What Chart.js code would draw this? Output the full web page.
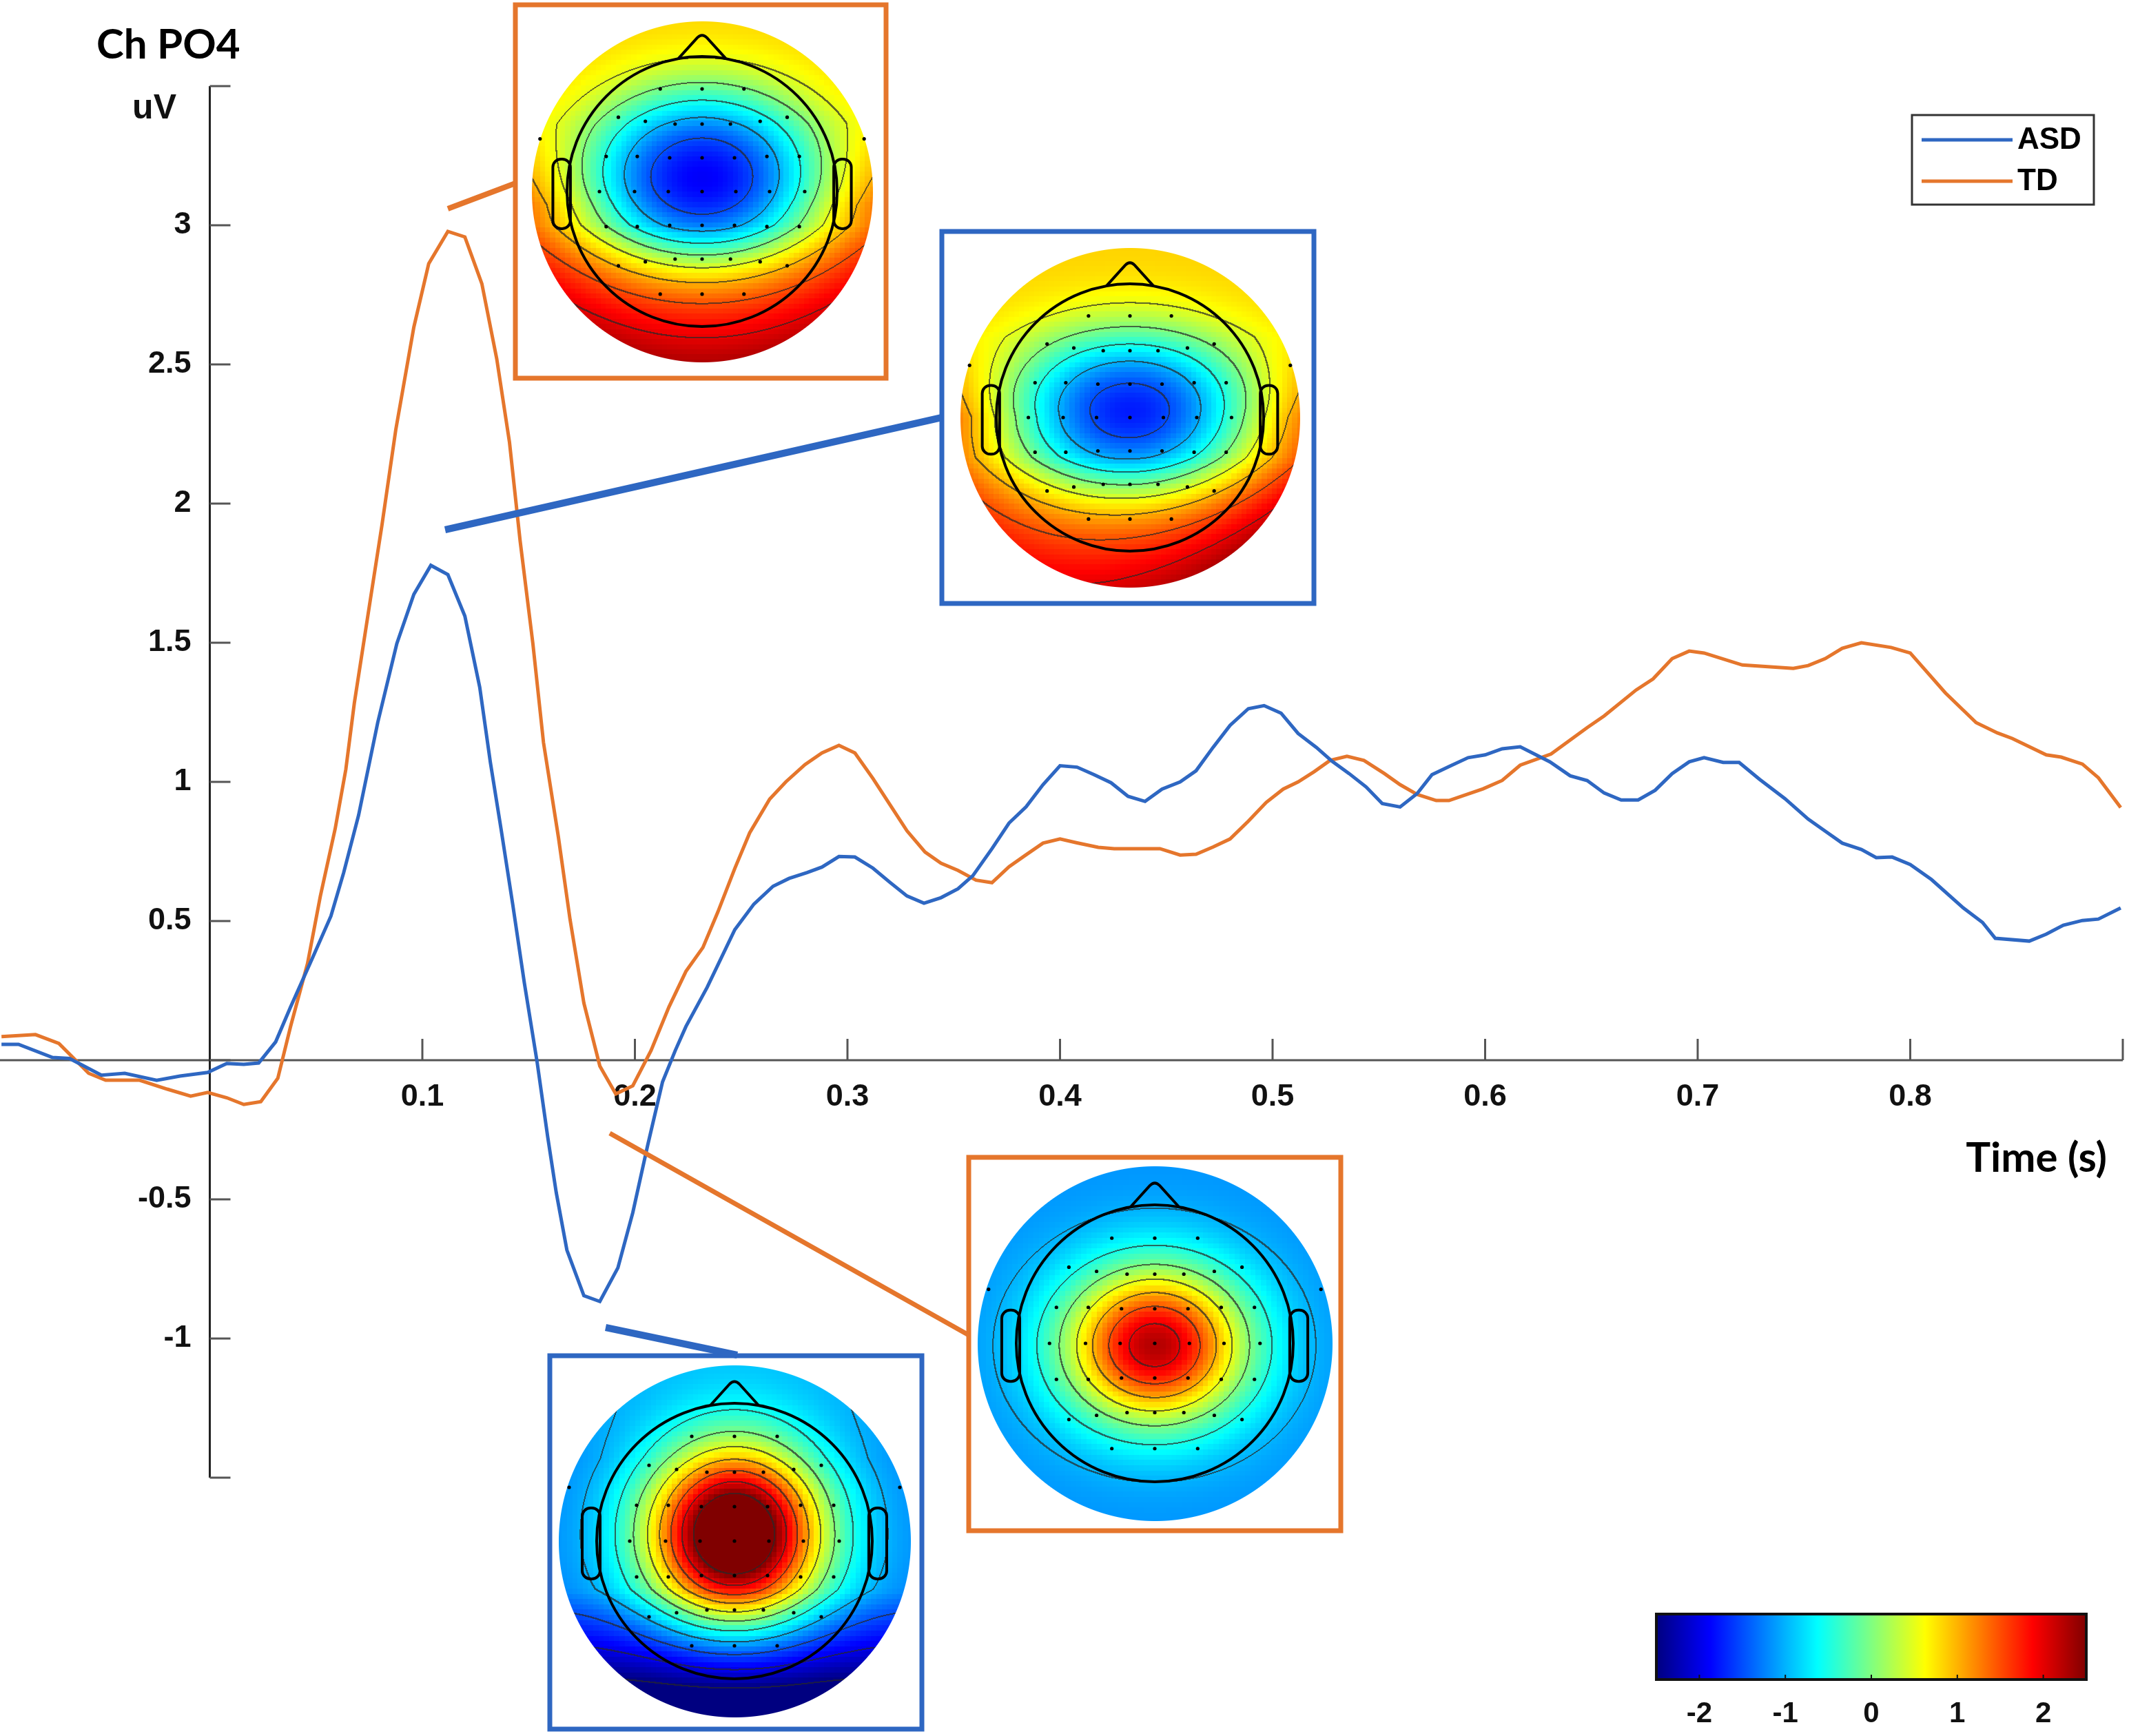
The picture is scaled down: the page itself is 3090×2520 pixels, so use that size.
<!DOCTYPE html>
<html>
<head>
<meta charset="utf-8">
<script src="https://cdn.jsdelivr.net/npm/chart.js@4.4.1/dist/chart.umd.min.js"></script>
<style>
  html, body { margin: 0; padding: 0; background: #fff; }
  canvas { display: block; }
</style>
</head>
<body>
<canvas id="erp" width="3090" height="2520"></canvas>
<script>
// ERP at channel PO4, time in s, amplitude in uV
const asdTime = [-0.098, -0.090, -0.074, -0.066, -0.051, -0.040, -0.025, -0.014, -0.001, 0.008, 0.016, 0.023,
  0.031, 0.038, 0.048, 0.057, 0.063, 0.070, 0.079, 0.088, 0.096, 0.104, 0.112, 0.120, 0.127, 0.132, 0.137,
  0.1425, 0.148, 0.154, 0.159, 0.163, 0.168, 0.176, 0.1835, 0.192, 0.199, 0.206, 0.213, 0.219, 0.224, 0.234,
  0.247, 0.256, 0.265, 0.2725, 0.281, 0.288, 0.296, 0.3035, 0.312, 0.320, 0.328, 0.336, 0.344, 0.352, 0.359,
  0.368, 0.376, 0.384, 0.392, 0.400, 0.408, 0.416, 0.424, 0.432, 0.440, 0.448, 0.4565, 0.464, 0.472, 0.480,
  0.4886, 0.496, 0.504, 0.512, 0.5206, 0.528, 0.536, 0.544, 0.5516, 0.560, 0.568, 0.575, 0.583, 0.592, 0.600,
  0.608, 0.6165, 0.6305, 0.640, 0.648, 0.656, 0.664, 0.672, 0.680, 0.688, 0.696, 0.703, 0.712, 0.7195, 0.729,
  0.741, 0.752, 0.760, 0.768, 0.777, 0.784, 0.7915, 0.800, 0.810, 0.825, 0.834, 0.840, 0.856, 0.864, 0.872,
  0.881, 0.8885, 0.899];
const asdValues = [0.057, 0.057, 0.010, 0.006, -0.054, -0.047, -0.072, -0.057, -0.044, -0.012, -0.015, -0.010,
  0.066, 0.191, 0.362, 0.518, 0.674, 0.880, 1.213, 1.497, 1.674, 1.778, 1.745, 1.596, 1.340, 1.070, 0.832,
  0.561, 0.277, -0.007, -0.277, -0.476, -0.682, -0.846, -0.867, -0.746, -0.548, -0.306, -0.078, 0.035, 0.121, 0.262,
  0.469, 0.561, 0.625, 0.653, 0.674, 0.694, 0.732, 0.730, 0.690, 0.639, 0.590, 0.564, 0.584, 0.616, 0.663,
  0.760, 0.852, 0.910, 0.990, 1.058, 1.053, 1.026, 0.997, 0.948, 0.930, 0.974, 1.000, 1.040, 1.124, 1.203,
  1.263, 1.274, 1.247, 1.174, 1.124, 1.074, 1.030, 0.982, 0.922, 0.910, 0.958, 1.026, 1.055, 1.087, 1.097,
  1.119, 1.126, 1.072, 1.022, 1.005, 0.960, 0.935, 0.935, 0.970, 1.030, 1.072, 1.087, 1.070, 1.070, 1.010,
  0.940, 0.866, 0.823, 0.780, 0.757, 0.728, 0.730, 0.703, 0.649, 0.547, 0.495, 0.438, 0.428, 0.453, 0.485,
  0.502, 0.507, 0.547];

const tdTime = [-0.098, -0.082, -0.071, -0.057, -0.049, -0.033, -0.020, -0.009, -0.001, 0.008, 0.016, 0.024,
  0.032, 0.038, 0.046, 0.052, 0.059, 0.064, 0.068, 0.0755, 0.081, 0.0875, 0.096, 0.103, 0.112, 0.120, 0.128,
  0.135, 0.141, 0.146, 0.152, 0.157, 0.164, 0.1695, 0.176, 0.1835, 0.191, 0.199, 0.2076, 0.216, 0.224, 0.232,
  0.239, 0.247, 0.254, 0.2634, 0.271, 0.280, 0.288, 0.296, 0.3035, 0.312, 0.320, 0.328, 0.3365, 0.344, 0.352,
  0.3605, 0.368, 0.376, 0.384, 0.392, 0.400, 0.408, 0.418, 0.4255, 0.447, 0.4565, 0.464, 0.472, 0.480, 0.4886,
  0.497, 0.505, 0.512, 0.5196, 0.527, 0.535, 0.543, 0.5526, 0.560, 0.568, 0.577, 0.583, 0.599, 0.608, 0.6165,
  0.631, 0.648, 0.656, 0.671, 0.679, 0.688, 0.696, 0.703, 0.721, 0.745, 0.752, 0.760, 0.768, 0.777, 0.791,
  0.800, 0.8165, 0.831, 0.841, 0.848, 0.864, 0.871, 0.881, 0.8885, 0.899];
const tdValues = [0.085, 0.092, 0.060, -0.047, -0.072, -0.072, -0.104, -0.129, -0.116, -0.135, -0.159, -0.149,
  -0.065, 0.121, 0.348, 0.589, 0.832, 1.045, 1.283, 1.653, 1.923, 2.265, 2.634, 2.862, 2.978, 2.958, 2.790,
  2.520, 2.220, 1.866, 1.497, 1.141, 0.802, 0.505, 0.205, -0.021, -0.121, -0.092, 0.035, 0.191, 0.319, 0.405,
  0.532, 0.689, 0.817, 0.938, 1.000, 1.062, 1.104, 1.131, 1.104, 1.012, 0.918, 0.824, 0.748, 0.708, 0.682,
  0.647, 0.638, 0.695, 0.738, 0.780, 0.795, 0.781, 0.765, 0.760, 0.760, 0.737, 0.740, 0.766, 0.795, 0.859,
  0.926, 0.974, 1.000, 1.037, 1.077, 1.092, 1.077, 1.030, 0.990, 0.955, 0.933, 0.933, 0.975, 1.005, 1.060,
  1.100, 1.195, 1.237, 1.330, 1.370, 1.443, 1.470, 1.463, 1.420, 1.408, 1.418, 1.443, 1.480, 1.500, 1.483,
  1.463, 1.320, 1.213, 1.176, 1.156, 1.097, 1.089, 1.064, 1.015, 0.908];

const seriesNames = ['ASD', 'TD'];
const xTickLabels = [0.1, 0.2, 0.3, 0.4, 0.5, 0.6, 0.7, 0.8];
const xTickMarks = [0, 0.1, 0.2, 0.3, 0.4, 0.5, 0.6, 0.7, 0.8, 0.9];
const yTickLabels = [-1, -0.5, 0.5, 1, 1.5, 2, 2.5, 3];
const yTickMarks = [-1.5, -1, -0.5, 0, 0.5, 1, 1.5, 2, 2.5, 3, 3.5];
const colorbarTicks = [-2, -1, 0, 1, 2];
const colorLimits = [-2.5, 2.5];

const BLUE = '#2e67c2';
const ORANGE = '#e5762c';
const TICK_FONT = 'bold 45px "Liberation Sans", Arial, sans-serif';
const TITLE_FONT = 'bold 60px Lato, "Open Sans", sans-serif';

function toPoints(xs, ys) {
  return xs.map((x, i) => ({ x: x, y: ys[i] }));
}

// jet colour map, as MATLAB
function jet(v) {
  let t = (v - colorLimits[0]) / (colorLimits[1] - colorLimits[0]);
  t = Math.min(1, Math.max(0, t));
  const c = (a) => Math.round(255 * Math.min(1, Math.max(0, 1.5 - Math.abs(4 * t - a))));
  return [c(3), c(2), c(1)];
}

// electrode layout in head radius units
const electrodes = [
  [-0.31, -0.76], [0, -0.76], [0.31, -0.76],
  [-0.62, -0.55], [-0.42, -0.52], [-0.2, -0.5], [0, -0.5], [0.21, -0.5], [0.43, -0.52], [0.63, -0.55],
  [-0.71, -0.26], [-0.48, -0.26], [-0.24, -0.25], [0, -0.25], [0.24, -0.25], [0.48, -0.26], [0.72, -0.26],
  [-0.76, 0], [-0.5, 0], [-0.25, 0], [0, 0], [0.25, 0], [0.5, 0], [0.76, 0],
  [-0.71, 0.26], [-0.48, 0.26], [-0.24, 0.25], [0, 0.25], [0.24, 0.25], [0.48, 0.26], [0.72, 0.26],
  [-0.62, 0.55], [-0.42, 0.52], [-0.2, 0.5], [0, 0.5], [0.21, 0.5], [0.43, 0.52], [0.63, 0.55],
  [-0.31, 0.76], [0, 0.76], [0.31, 0.76],
  [-1.2, -0.39], [1.2, -0.39]
];

const clamp01 = (v) => Math.min(1, Math.max(0, v));

// scalp maps (approximate fields)
const topoMaps = [
  { // TD, positive peak
    box: [748, 7, 538, 542], color: ORANGE, cx: 1019, cy: 278, rDisc: 247, rHead: 196,
    link: [650, 303, 748, 266, 8],
    field: (x, y) => {
      const ay = y > -0.1 ? 0.6 : 0.65;
      const d = Math.sqrt((x / 0.88) ** 2 + ((y + 0.1) / ay) ** 2);
      return -1.9 + 2.75 * Math.tanh(0.72 * d ** 2.0) + 0.4 * x * x * clamp01((y + 0.5) / 0.6)
        + 1.4 * Math.max(0, y - 0.25);
    }
  },
  { // ASD, positive peak
    box: [1367, 336, 540, 540], color: BLUE, cx: 1640, cy: 606, rDisc: 246, rHead: 194,
    link: [646, 769, 1367, 606, 10],
    field: (x, y) => {
      const d = Math.sqrt((x / 0.95) ** 2 + ((y + 0.05) / 0.6) ** 2);
      return -1.75 + 2.6 * Math.tanh(0.75 * d ** 1.9) + 0.45 * x * x * clamp01((y + 0.6) / 0.6)
        + 1.3 * Math.max(0, y - 0.3) + 0.3 * x * Math.max(0, y);
    }
  },
  { // TD, negative peak
    box: [1406, 1680, 540, 542], color: ORANGE, cx: 1676, cy: 1950, rDisc: 257, rHead: 201,
    link: [885, 1645, 1406, 1938, 7],
    field: (x, y) => -1.15 + 3.4 * Math.exp(-((x / 0.66) ** 2 + ((y - 0.015) / 0.56) ** 2))
  },
  { // ASD, negative peak
    box: [798, 1968, 540, 542], color: BLUE, cx: 1066, cy: 2237, rDisc: 255, rHead: 200,
    link: [879, 1927, 1070, 1967, 10],
    field: (x, y) => -1.2 + 4.6 * Math.exp(-((x / 0.63) ** 2 + ((y + 0.05) / 0.63) ** 2))
      - 0.3 * Math.max(0, y) ** 2 - 1.6 * Math.max(0, y - 0.35) + 0.3 * Math.max(0, -y - 0.6)
  }
];

function drawTopo(ctx, m) {
  const size = Math.ceil(m.rDisc * 2) + 4;
  const half = size / 2;
  const off = document.createElement('canvas');
  off.width = size;
  off.height = size;
  const octx = off.getContext('2d');
  const img = octx.createImageData(size, size);
  const cell = (m.rDisc * 2) / 67;
  const step = 0.5;
  const lev = (v) => Math.floor(Math.min(2.6, Math.max(-2.6, v)) / step);

  const smooth = new Float32Array(size * size);
  for (let j = 0; j < size; j++) {
    for (let i = 0; i < size; i++) {
      smooth[j * size + i] = m.field((i - half) / m.rHead, (j - half) / m.rHead);
    }
  }
  for (let j = 0; j < size; j++) {
    for (let i = 0; i < size; i++) {
      const px = i - half, py = j - half;
      const r = Math.sqrt(px * px + py * py);
      if (r > m.rDisc + 1) continue;
      const qx = (Math.floor(px / cell) + 0.5) * cell;
      const qy = (Math.floor(py / cell) + 0.5) * cell;
      let [cr, cg, cb] = jet(m.field(qx / m.rHead, qy / m.rHead));
      const k = j * size + i;
      const l0 = lev(smooth[k]);
      const edge = (i + 2 < size && lev(smooth[k + 2]) !== l0) || (j + 2 < size && lev(smooth[k + 2 * size]) !== l0);
      if (edge) {
        cr = cr * 0.3 + 40 * 0.7;
        cg = cg * 0.3 + 40 * 0.7;
        cb = cb * 0.3 + 40 * 0.7;
      }
      const o = k * 4;
      img.data[o] = cr;
      img.data[o + 1] = cg;
      img.data[o + 2] = cb;
      img.data[o + 3] = Math.round(255 * Math.min(1, Math.max(0, m.rDisc + 1 - r)));
    }
  }
  octx.putImageData(img, 0, 0);
  ctx.drawImage(off, m.cx - half, m.cy - half);

  const hx = (u) => m.cx + u * m.rHead;
  const hy = (v) => m.cy + v * m.rHead;

  // electrodes
  ctx.fillStyle = '#000';
  electrodes.forEach(([ex, ey]) => {
    ctx.beginPath();
    ctx.arc(hx(ex), hy(ey), 2.6, 0, Math.PI * 2);
    ctx.fill();
  });

  // head, nose, ears
  ctx.strokeStyle = '#000';
  ctx.lineWidth = 4;
  ctx.lineJoin = 'round';
  ctx.beginPath();
  ctx.arc(m.cx, m.cy, m.rHead, 0, Math.PI * 2);
  ctx.stroke();
  ctx.beginPath();
  ctx.moveTo(hx(-0.175), hy(-0.985));
  ctx.lineTo(hx(-0.035), hy(-1.14));
  ctx.quadraticCurveTo(hx(0), hy(-1.175), hx(0.035), hy(-1.14));
  ctx.lineTo(hx(0.175), hy(-0.985));
  ctx.stroke();
  [-1, 1].forEach((s) => {
    const x0 = s < 0 ? hx(-1.105) : hx(0.975);
    const w = 0.13 * m.rHead;
    ctx.beginPath();
    ctx.roundRect(x0, hy(-0.24), w, 0.515 * m.rHead, 0.06 * m.rHead);
    ctx.stroke();
  });

  // frame
  ctx.strokeStyle = m.color;
  ctx.lineWidth = 7;
  ctx.lineJoin = 'miter';
  ctx.strokeRect(m.box[0], m.box[1], m.box[2], m.box[3]);
}

const axesPlugin = {
  id: 'originAxes',
  beforeDatasetsDraw(chart) {
    const ctx = chart.ctx;
    const xs = chart.scales.x, ys = chart.scales.y;
    const x0 = xs.getPixelForValue(0), y0 = ys.getPixelForValue(0);
    ctx.save();
    // x axis through y = 0
    ctx.strokeStyle = '#555';
    ctx.lineWidth = 3;
    ctx.beginPath();
    ctx.moveTo(xs.left, y0);
    ctx.lineTo(xs.getPixelForValue(0.9), y0);
    ctx.stroke();
    xTickMarks.forEach((t) => {
      const px = xs.getPixelForValue(t);
      ctx.beginPath();
      ctx.moveTo(px, y0);
      ctx.lineTo(px, y0 - 31);
      ctx.stroke();
    });
    // y axis through t = 0
    ctx.strokeStyle = '#222';
    ctx.beginPath();
    ctx.moveTo(x0, ys.getPixelForValue(3.5));
    ctx.lineTo(x0, ys.getPixelForValue(-1.5));
    ctx.stroke();
    ctx.strokeStyle = '#555';
    yTickMarks.forEach((v) => {
      const py = ys.getPixelForValue(v);
      ctx.beginPath();
      ctx.moveTo(x0, py);
      ctx.lineTo(x0 + 30, py);
      ctx.stroke();
    });
    // tick labels
    ctx.fillStyle = '#111';
    ctx.font = TICK_FONT;
    ctx.textAlign = 'center';
    ctx.textBaseline = 'middle';
    xTickLabels.forEach((t) => ctx.fillText(String(t), xs.getPixelForValue(t), y0 + 54));
    ctx.textAlign = 'right';
    yTickLabels.forEach((v) => ctx.fillText(String(v), x0 - 27, ys.getPixelForValue(v)));
    ctx.font = 'bold 50px "Liberation Sans", Arial, sans-serif';
    ctx.fillText('uV', 256, 158);
    ctx.restore();
  },
  afterDatasetsDraw(chart) {
    const ctx = chart.ctx;
    ctx.save();
    // titles
    ctx.fillStyle = '#000';
    ctx.font = TITLE_FONT;
    ctx.textBaseline = 'middle';
    ctx.textAlign = 'left';
    ctx.fillText('Ch PO4', 140, 66);
    ctx.textAlign = 'right';
    ctx.fillText('Time (s)', 3058, 1682);

    // scalp maps and their pointers
    topoMaps.forEach((m) => drawTopo(ctx, m));
    ctx.lineCap = 'butt';
    topoMaps.forEach((m) => {
      const [ax, ay, bx, by, lw] = m.link;
      ctx.strokeStyle = m.color;
      ctx.lineWidth = lw;
      ctx.beginPath();
      ctx.moveTo(ax, ay);
      ctx.lineTo(bx, by);
      ctx.stroke();
    });

    // legend
    const ds = chart.data.datasets;
    ctx.fillStyle = '#fff';
    ctx.fillRect(2775, 167, 264, 130);
    ctx.strokeStyle = '#333';
    ctx.lineWidth = 3;
    ctx.strokeRect(2775, 167, 264, 130);
    ds.forEach((d, i) => {
      const ly = 203 + i * 60;
      ctx.strokeStyle = d.borderColor;
      ctx.lineWidth = 5;
      ctx.beginPath();
      ctx.moveTo(2789, ly);
      ctx.lineTo(2921, ly);
      ctx.stroke();
      ctx.fillStyle = '#000';
      ctx.font = 'bold 44px "Liberation Sans", Arial, sans-serif';
      ctx.textAlign = 'left';
      ctx.textBaseline = 'middle';
      ctx.fillText(d.label, 2928, ly + 1);
    });

    // colour bar
    const cbX = 2404, cbY = 2343, cbW = 624, cbH = 95;
    const grad = ctx.createLinearGradient(cbX, 0, cbX + cbW, 0);
    for (let s = 0; s <= 40; s++) {
      const v = colorLimits[0] + (colorLimits[1] - colorLimits[0]) * s / 40;
      const [r, g, b] = jet(v);
      grad.addColorStop(s / 40, `rgb(${r},${g},${b})`);
    }
    ctx.fillStyle = grad;
    ctx.fillRect(cbX, cbY, cbW, cbH);
    ctx.strokeStyle = '#111';
    ctx.lineWidth = 4;
    ctx.strokeRect(cbX, cbY, cbW, cbH);
    ctx.fillStyle = '#111';
    ctx.font = 'bold 42px "Liberation Sans", Arial, sans-serif';
    ctx.textAlign = 'center';
    colorbarTicks.forEach((v) => {
      const px = cbX + (v - colorLimits[0]) / (colorLimits[1] - colorLimits[0]) * cbW;
      ctx.lineWidth = 2;
      ctx.beginPath();
      ctx.moveTo(px, cbY + cbH);
      ctx.lineTo(px, cbY + cbH - 7);
      ctx.stroke();
      ctx.fillText(v < 0 ? '-' + Math.abs(v) : String(v), px, 2488);
    });
    ctx.restore();
  }
};

new Chart(document.getElementById('erp'), {
  type: 'line',
  data: {
    datasets: [
      {
        label: seriesNames[0],
        data: toPoints(asdTime, asdValues),
        borderColor: BLUE,
        borderWidth: 5,
        pointRadius: 0,
        tension: 0,
        clip: false
      },
      {
        label: seriesNames[1],
        data: toPoints(tdTime, tdValues),
        borderColor: ORANGE,
        borderWidth: 5,
        pointRadius: 0,
        tension: 0,
        clip: false
      }
    ]
  },
  options: {
    responsive: false,
    devicePixelRatio: 1,
    animation: false,
    layout: { padding: { left: 0, right: 9, top: 125, bottom: 375 } },
    plugins: { legend: { display: false }, tooltip: { enabled: false } },
    scales: {
      x: { type: 'linear', min: -0.0987, max: 0.9, display: false },
      y: { type: 'linear', min: -1.5, max: 3.5, display: false }
    }
  },
  plugins: [axesPlugin]
});
</script>
</body>
</html>
